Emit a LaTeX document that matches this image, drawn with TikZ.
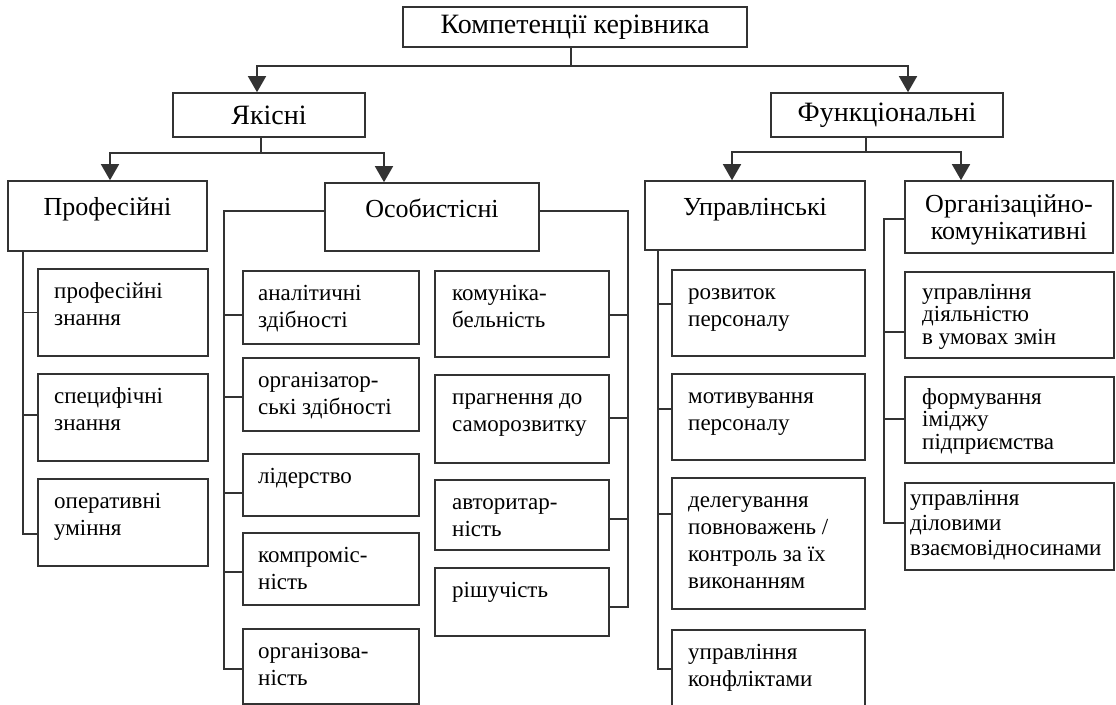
\documentclass[tikz,border=0pt]{standalone}
\usepackage{fontspec}
\setmainfont{Liberation Serif}
\usetikzlibrary{arrows.meta}

\newcommand{\firstrow}{\rule{0pt}{19pt}}

\tikzset{
	conn/.style={draw=black!80, line width=1.6pt},
	arr/.style={conn, -{Triangle[width=18pt,length=16pt]}},
	box/.style={conn, rectangle, inner sep=0pt},
	hdrtxt/.style={anchor=north, align=center, inner xsep=0pt, inner ysep=16pt,
		font=\fontsize{26}{27}\selectfont},
	itemtxt/.style={anchor=north west, align=left, inner xsep=17pt, inner ysep=11pt,
		font=\fontsize{23}{27}\selectfont}
}

\begin{document}
\begin{tikzpicture}[x=1pt,y=-1pt]
	\clip (0,0) rectangle (1116,704);

	\node[box, font=\fontsize{28}{32}\selectfont, minimum width=344, minimum height=40] (top) at (575,27) {Компетенції керівника};
	\node[box, font=\fontsize{28}{32}\selectfont, minimum width=192, minimum height=44] (yak) at (269,115) {Якісні};
	\node[box, font=\fontsize{28}{32}\selectfont, minimum width=232, minimum height=44] (fun) at (887,115) {Функціональні};

	\node[box, minimum width=199, minimum height=70, label={[hdrtxt]north:\firstrow Професійні}] (prof) at (107.5,216) {};
	\node[box, minimum width=214, minimum height=68, label={[hdrtxt]north:\firstrow Особистісні}] (osob) at (432,217) {};
	\node[box, minimum width=220, minimum height=69, label={[hdrtxt]north:\firstrow Управлінські}] (upr) at (755,215.5) {};
	\node[box, minimum width=208, minimum height=72, label={[hdrtxt, inner ysep=13pt]north:{\firstrow Організаційно-\\комунікативні}}] (org) at (1009,217) {};

	\draw[arr] ([xshift=-4pt]top.south) -- ++(0,18) -| ([xshift=-12pt]yak.north);
	\draw[arr] ([xshift=-4pt]top.south) -- ++(0,18) -| ([xshift=21pt]fun.north);
	\draw[arr] ([xshift=-8pt]yak.south) -- ++(0,15) -| ([xshift=2.5pt]prof.north);
	\draw[arr] ([xshift=-8pt]yak.south) -- ++(0,15) -| ([xshift=-48pt]osob.north);
	\draw[arr] ([xshift=-21pt]fun.south) -- ++(0,14) -| ([xshift=-23pt]upr.north);
	\draw[arr] ([xshift=-21pt]fun.south) -- ++(0,14) -| ([xshift=-48pt]org.north);

	\foreach \n/\yy/\sh/\txt in {p1/268/0/{професійні\\знання}, p2/373/2.5/{специфічні\\знання}, p3/478/-11.5/{оперативні\\уміння}}{
		\node[box, anchor=north west, minimum width=170, minimum height=87, label={[itemtxt]north west:\firstrow\txt}] (\n) at (37,\yy) {};
		\draw[conn] ([yshift=\sh pt]\n.west) -- ++(-14,0);
	}
	\draw[conn] ([xshift=-84.5pt]prof.south) |- ([yshift=-11.5pt]p3.west);

	\foreach \n/\yy/\hh/\sh/\txt in {o1/270/73/-7.5/{аналітичні\\здібності}, o2/357/73/-2.5/{організатор-\\ські здібності}, o3/453/62/-8/{лідерство}, o4/532/72/-3/{компроміс-\\ність}, o5/628/75/-2.5/{організова-\\ність}}{
		\node[box, anchor=north west, minimum width=176, minimum height=\hh, label={[itemtxt, inner xsep=16pt]north west:\firstrow\txt}] (\n) at (242,\yy) {};
		\draw[conn] ([yshift=\sh pt]\n.west) -- ++(-17,0);
	}
	\draw[conn] ([yshift=6pt]osob.west) -- ++(-100,0) |- ([yshift=-2.5pt]o5.west);

	\foreach \n/\yy/\hh/\sh/\txt in {r1/270/86/-1/{комуніка-\\бельність}, r2/374/88/1/{прагнення до\\саморозвитку}, r3/479/70/-4/{авторитар-\\ність}, r4/567/68/-5/{рішучість}}{
		\node[box, anchor=north west, minimum width=174, minimum height=\hh, label={[itemtxt, inner xsep=18pt]north west:\firstrow\txt}] (\n) at (434,\yy) {};
		\draw[conn] ([yshift=\sh pt]\n.east) -- ++(19,0);
	}
	\draw[conn] ([yshift=6pt]osob.east) -- ++(88,0) |- ([yshift=-5pt]r4.east);

	\foreach \n/\yy/\hh/\sh/\txt in {u1/269/86/9/{розвиток\\персоналу}, u2/373/86/8/{мотивування\\персоналу}, u3/477/131/29.5/{делегування\\повноважень /\\контроль за їх\\виконанням}, u4/629/100/11/{управління\\конфліктами}}{
		\node[box, anchor=north west, minimum width=193, minimum height=\hh, label={[itemtxt]north west:\firstrow\txt}] (\n) at (671,\yy) {};
		\draw[conn] ([yshift=\sh pt]\n.west) -- ++(-13,0);
	}
	\draw[conn] ([xshift=-97pt]upr.south) |- ([yshift=11pt]u4.west);

	\foreach \n/\yy/\sh/\txt in {g1/271/-17/{управління\\діяльністю\\в умовах змін}, g2/376/1/{формування\\іміджу\\підприємства}}{
		\node[box, anchor=north west, minimum width=209, minimum height=86, label={[itemtxt, inner xsep=18pt, inner ysep=9pt, font=\fontsize{23}{22.5}\selectfont]north west:\firstrow\txt}] (\n) at (904,\yy) {};
		\draw[conn] ([yshift=\sh pt]\n.west) -- ++(-19,0);
	}
	\node[box, anchor=north west, minimum width=209, minimum height=87, label={[itemtxt, inner xsep=6pt, inner ysep=4.5pt, font=\fontsize{23}{25}\selectfont]north west:{\firstrow управління\\діловими\\взаємовідносинами}}] (g3) at (904,482) {};
	\draw[conn] ([yshift=-2pt]org.west) -- ++(-20,0) |- ([yshift=3.5pt]g3.west);
\end{tikzpicture}
\end{document}
